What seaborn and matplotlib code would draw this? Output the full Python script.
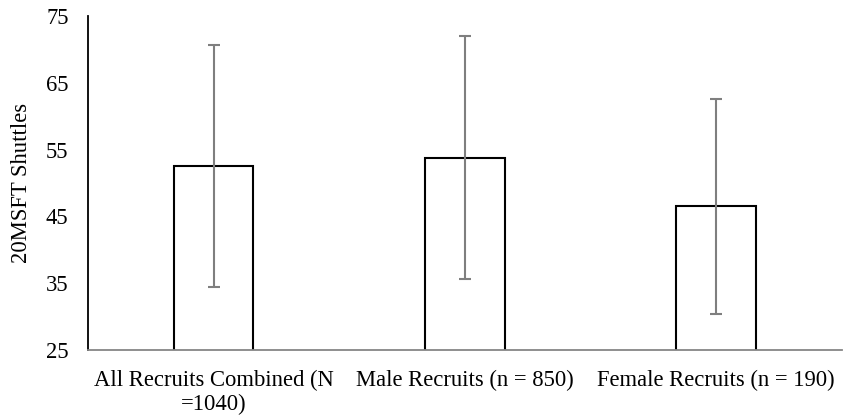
import matplotlib
matplotlib.use("Agg")
import matplotlib.pyplot as plt
import seaborn as sns
import pandas as pd

categories = ["All Recruits Combined (N\n=1040)", "Male Recruits (n = 850)", "Female Recruits (n = 190)"]
means = [52.5, 53.8, 46.5]
sds = [18.1, 18.2, 16.1]
y_ticks = [25, 35, 45, 55, 65, 75]

sns.set_theme(style="white")
plt.rcParams["font.family"] = ["Liberation Serif", "DejaVu Serif"]

df = pd.DataFrame({"group": categories, "mean": means, "sd": sds})

fig = plt.figure(figsize=(8.49, 4.17), dpi=100)
ax = fig.add_axes([88 / 849, 1 - 350 / 417, (841.5 - 88) / 849, (350 - 16) / 417])

sns.barplot(data=df, x="group", y="mean", ax=ax, color="white", edgecolor="black",
            linewidth=1.5, width=0.317, errorbar=None)
ax.errorbar(range(len(means)), means, yerr=sds, fmt="none", ecolor="#7f7f7f",
            elinewidth=1.5, capsize=4, capthick=1.5)

ax.set_ylim(25, 75)
ax.set_xlim(-0.5, 2.5)
ax.set_yticks(y_ticks)
ax.set_yticklabels([str(t) for t in y_ticks])
ax.tick_params(axis="both", length=0, labelsize=16.3, colors="black")
ax.tick_params(axis="y", pad=14)
ax.tick_params(axis="x", pad=14)
for lab in ax.get_xticklabels():
    lab.set_linespacing(1.2)
ax.set_xlabel("")
ax.set_ylabel("20MSFT Shuttles", fontsize=16.3, color="black", labelpad=10)

for s in ["top", "right"]:
    ax.spines[s].set_visible(False)
ax.spines["left"].set_color("black")
ax.spines["left"].set_linewidth(1.3)
ax.spines["bottom"].set_color("#868686")
ax.spines["bottom"].set_linewidth(1.3)

fig.savefig("out.png", dpi=100)
